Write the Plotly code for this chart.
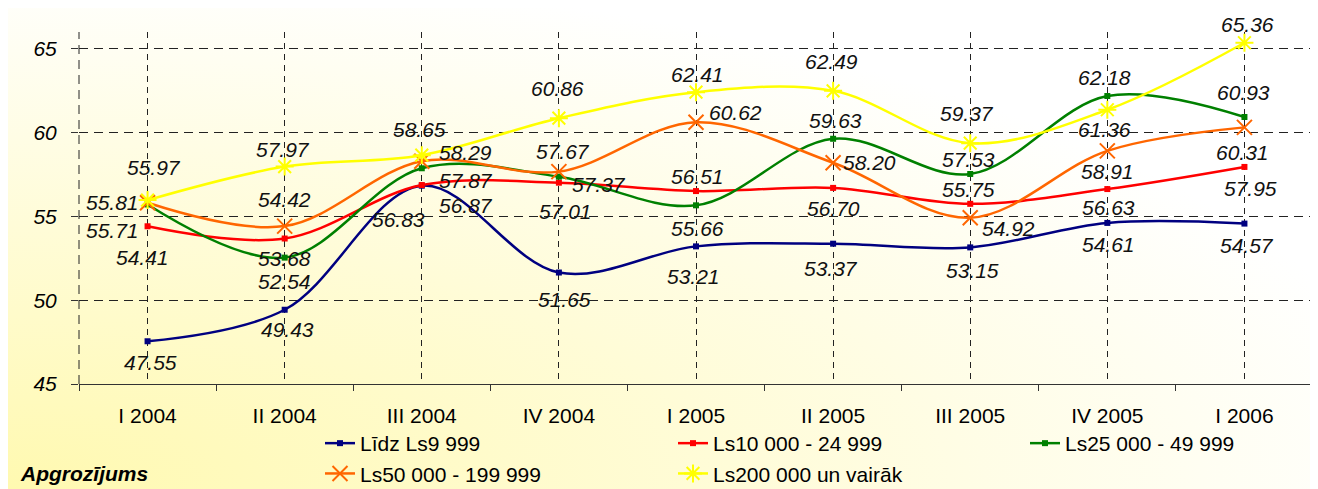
import base64
import plotly.graph_objects as go

categories = ["I 2004", "II 2004", "III 2004", "IV 2004", "I 2005",
              "II 2005", "III 2005", "IV 2005", "I 2006"]

s_lidz_9999 = [47.55, 49.43, 56.83, 51.65, 53.21, 53.37, 53.15, 54.61, 54.57]
s_10000_24999 = [54.41, 53.68, 56.87, 57.01, 56.51, 56.70, 55.75, 56.63, 57.95]
s_25000_49999 = [55.71, 52.54, 57.87, 57.37, 55.66, 59.63, 57.53, 62.18, 60.93]
s_50000_199999 = [55.81, 54.42, 58.29, 57.67, 60.62, 58.20, 54.92, 58.91, 60.31]
s_200000_plus = [55.97, 57.97, 58.65, 60.86, 62.41, 62.49, 59.37, 61.36, 65.36]

series_names = ["Līdz Ls9 999", "Ls10 000 - 24 999", "Ls25 000 - 49 999",
                "Ls50 000 - 199 999", "Ls200 000 un vairāk"]
y_ticks = [45, 50, 55, 60, 65]

# label offsets in pixels (dx right, dy down) for each series' data labels
off_lidz = [(3, 21), (3, 20), (-23, 34), (6, 27), (-3, 30), (-2, 25), (2, 23), (1, 22), (3, 22)]
off_10 = [(-5, 31), (0, 20), (44, 20), (7, 29), (1, -15), (0, 21), (-2, -14), (1, 18), (6, 22)]
off_25 = [(-35, 26), (0, 24), (44, 12), (40, 8), (1, 23), (2, -18), (-2, -14), (-3, -19), (-1, -24)]
off_50 = [(-35, 0), (0, -27), (44, -9), (4, -20), (39, -10), (36, 0), (38, 11), (0, 21), (-2, 25)]
off_200 = [(6, -33), (-2, -17), (-2, -26), (-1, -30), (1, -18), (-2, -29), (-3, -30), (-3, 20), (3, -18)]

FONT = "Liberation Sans, Arial, sans-serif"
FS = 21
xs = list(range(len(categories)))

# page is offset by the default 8px body margin
OFF = 8
PLOT_W, PLOT_H = 1234, 352
ML, MT = 79 - OFF, 32 - OFF
FIG_W, FIG_H = 1318 - OFF, 489 - OFF

series = [
    (series_names[0], s_lidz_9999, "#000080", dict(symbol="square", size=6), off_lidz, "legend"),
    (series_names[1], s_10000_24999, "#FF0000", dict(symbol="square", size=6), off_10, "legend2"),
    (series_names[2], s_25000_49999, "#008000", dict(symbol="square", size=6), off_25, "legend3"),
    (series_names[3], s_50000_199999, "#FF6600",
     dict(symbol="x-thin-open", size=15, line=dict(width=2, color="#FF6600")), off_50, "legend"),
    (series_names[4], s_200000_plus, "#FFFF00",
     dict(symbol="asterisk-open", size=15, line=dict(width=2, color="#FFFF00")), off_200, "legend2"),
]

fig = go.Figure()
annotations = []
for name, vals, color, mk, offs, lg in series:
    mk = dict(mk)
    mk["color"] = color
    fig.add_trace(go.Scatter(
        x=xs, y=vals, name=name, mode="lines+markers",
        line=dict(color=color, width=2.5, shape="spline"),
        marker=mk, legend=lg,
    ))
    for i, v in enumerate(vals):
        dx, dy = offs[i]
        annotations.append(dict(
            x=xs[i], y=v, xref="x", yref="y", text=f"{v:.2f}", showarrow=False,
            xshift=dx, yshift=-dy,
            font=dict(family=FONT, size=FS, color="#111111", style="italic"),
        ))


def px_x(px):
    return (px - OFF - ML) / PLOT_W


def px_y(py):
    return (MT + PLOT_H - (py - OFF)) / PLOT_H


annotations.append(dict(
    x=px_x(18), y=px_y(473), xref="paper", yref="paper",
    xanchor="left", yanchor="middle", text="<b><i>Apgrozījums</i></b>",
    showarrow=False, font=dict(family=FONT, size=FS, color="#000000"),
))

svg = ("<svg xmlns='http://www.w3.org/2000/svg' width='1318' height='489' "
       "viewBox='0 0 1318 489' preserveAspectRatio='none'>"
       "<defs><radialGradient id='g' cx='0' cy='1' r='1.15' fx='0' fy='1'>"
       "<stop offset='0' stop-color='#FFF9B0'/>"
       "<stop offset='0.95' stop-color='#FFFFFF'/>"
       "</radialGradient></defs>"
       "<rect width='1318' height='489' fill='url(#g)'/></svg>")
src = "data:image/svg+xml;base64," + base64.b64encode(svg.encode()).decode()

leg_common = dict(orientation="v", yanchor="top", xanchor="left",
                  bgcolor="rgba(0,0,0,0)", tracegroupgap=0, traceorder="normal",
                  font=dict(family=FONT, size=FS, color="#000000"))

fig.update_layout(
    width=FIG_W, height=FIG_H,
    margin=dict(l=ML, r=FIG_W - ML - PLOT_W, t=MT, b=FIG_H - MT - PLOT_H, autoexpand=False),
    paper_bgcolor="white", plot_bgcolor="rgba(0,0,0,0)",
    font=dict(family=FONT, size=FS, color="#000000"),
    images=[dict(source=src, xref="paper", yref="paper", x=-ML / PLOT_W, y=1 + MT / PLOT_H,
                 sizex=FIG_W / PLOT_W, sizey=FIG_H / PLOT_H, sizing="stretch",
                 xanchor="left", yanchor="top", layer="below")],
    annotations=annotations,
    showlegend=True,
    legend=dict(x=px_x(320), y=px_y(423), **leg_common),
    legend2=dict(x=px_x(673), y=px_y(423), **leg_common),
    legend3=dict(x=px_x(1025), y=px_y(423), **leg_common),
    xaxis=dict(
        range=[-0.5, len(categories) - 0.5], tickvals=xs, ticktext=categories,
        ticks="", showgrid=True, gridcolor="#222222", gridwidth=1, griddash="6px,5px",
        showline=True, linecolor="#333333", linewidth=1, zeroline=False,
        tickfont=dict(family=FONT, size=FS, color="#000000"), ticklabelstandoff=13,
        minor=dict(tickvals=[i - 0.5 for i in range(len(categories) + 1)], ticks="outside",
                   ticklen=6, tickcolor="#333333", showgrid=False),
    ),
    yaxis=dict(
        range=[45, 66], tickvals=y_ticks, ticks="outside", ticklen=7, tickcolor="#333333",
        showgrid=True, gridcolor="#222222", gridwidth=1, griddash="9px,6px",
        showline=False, zeroline=False,
        tickfont=dict(family=FONT, size=FS, color="#000000", style="italic"),
        ticklabelstandoff=10,
    ),
    shapes=[dict(type="line", xref="paper", yref="paper", x0=0, x1=0, y0=0, y1=1,
                 line=dict(color="#222222", width=1, dash="9px,6px"))],
)

fig.write_html("out.html")
